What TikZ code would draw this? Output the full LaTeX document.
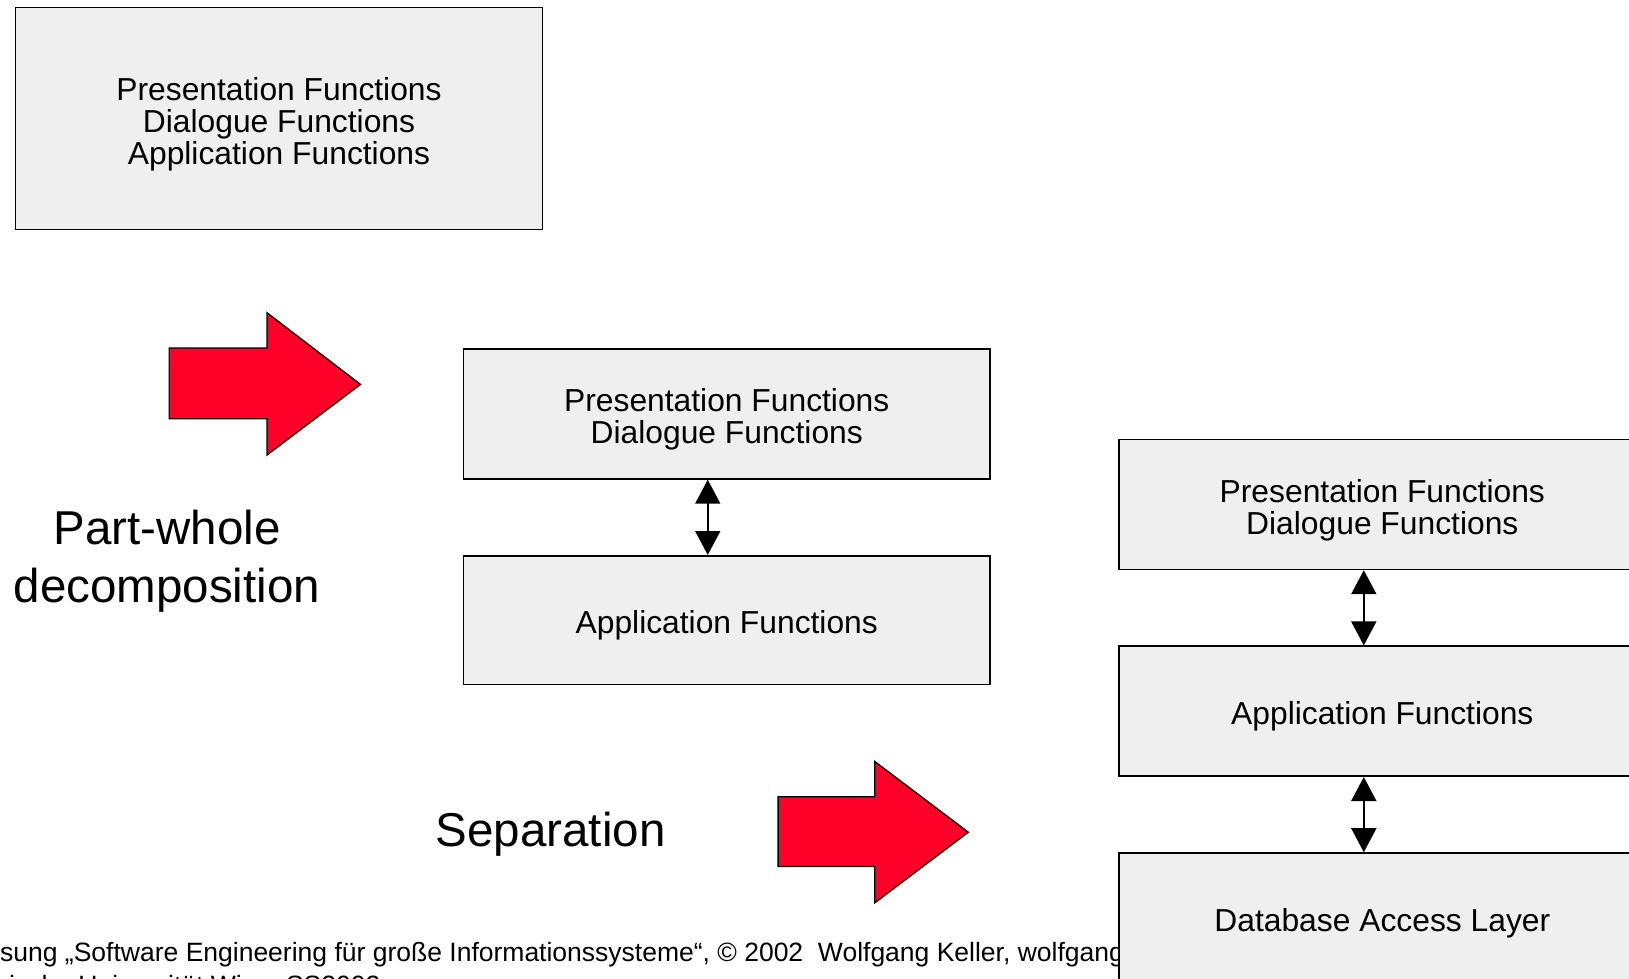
\documentclass[tikz,border=0pt]{standalone}
\usepackage{fontspec}
\setmainfont{Liberation Sans}
\usetikzlibrary{arrows.meta}
\definecolor{boxfill}{RGB}{239,239,239}
\definecolor{arrowred}{RGB}{255,0,41}

\begin{document}
\begin{tikzpicture}[x=1pt,y=-1pt,
  layer/.style={draw=black, line width=1.6pt, fill=boxfill,
    minimum width=526.7pt, minimum height=130pt, inner sep=0pt},
  layertext/.style={align=center, inner sep=0pt,
    font=\fontsize{31.8}{32.2}\selectfont},
  link/.style={line width=1.8pt,
    {Triangle[width=25pt,length=24pt]}-{Triangle[width=25pt,length=24pt]}},
  bigarrow/.style={draw=black, line width=1.3pt, fill=arrowred, line join=miter},
  caption/.style={align=center, font=\fontsize{47.5}{58.2}\selectfont},
  footer/.style={anchor=base west, inner sep=0pt, font=\fontsize{26.5}{32}\selectfont}]

\useasboundingbox (0,0) rectangle (1629,979);

% footer lines (partly hidden by the last layer box)
\node[footer] (foot1) at (0,961) {sung „Software Engineering für große Informationssysteme“, © 2002\ \ Wolfgang Keller, wolfgang};
\node[footer] (foot2) at (9,994) {ische Universität Wien, SS2002};

% monolithic block
\node[layer, minimum height=222.3pt] (whole) at (279,118.5) {};
\node[layertext] (whole-t) at ([yshift=-5.5pt]whole.center)
  {Presentation Functions\\Dialogue Functions\\Application Functions};

% two-tier decomposition
\node[layer, minimum height=129.8pt] (pd1) at (726.75,414) {};
\node[layertext] (pd1-t) at ([yshift=-5.5pt]pd1.center)
  {Presentation Functions\\Dialogue Functions};
\node[layer, minimum height=128.8pt] (app1) at (726.75,620.2) {};
\node[layertext] (app1-t) at ([yshift=-5.5pt]app1.center) {Application Functions};
\draw[link] ([xshift=-19pt]pd1.south) -- ([xshift=-19pt]app1.north);

% three-tier separation
\node[layer] (pd2) at (1382.3,504.4) {};
\node[layertext] (pd2-t) at ([yshift=-5.5pt]pd2.center)
  {Presentation Functions\\Dialogue Functions};
\node[layer] (app2) at (1382.3,711.2) {};
\node[layertext] (app2-t) at ([yshift=-5.5pt]app2.center) {Application Functions};
\node[layer] (db) at (1382.3,918) {};
\node[layertext] (db-t) at ([yshift=-5.5pt]db.center) {Database Access Layer};
\draw[link] ([xshift=-18.5pt]pd2.south) -- ([xshift=-18.5pt]app2.north);
\draw[link] ([xshift=-18.5pt]app2.south) -- ([xshift=-18.5pt]db.north);

% transition arrows
\draw[bigarrow] (169.3,348) -- (267,348) -- (267,312.7) -- (360.5,384.4)
  -- (267,455) -- (267,418.7) -- (169.3,418.7) -- cycle;
\draw[bigarrow] (778.1,796.8) -- (874.8,796.8) -- (874.8,761.5) -- (968.3,832.2)
  -- (874.8,902.8) -- (874.8,866.5) -- (778.1,866.5) -- cycle;

% captions
\node[caption] (pw) at (167,561) {Part-whole\\decomposition};
\node[caption] (sep) at (550.6,834) {Separation};
\end{tikzpicture}
\end{document}
